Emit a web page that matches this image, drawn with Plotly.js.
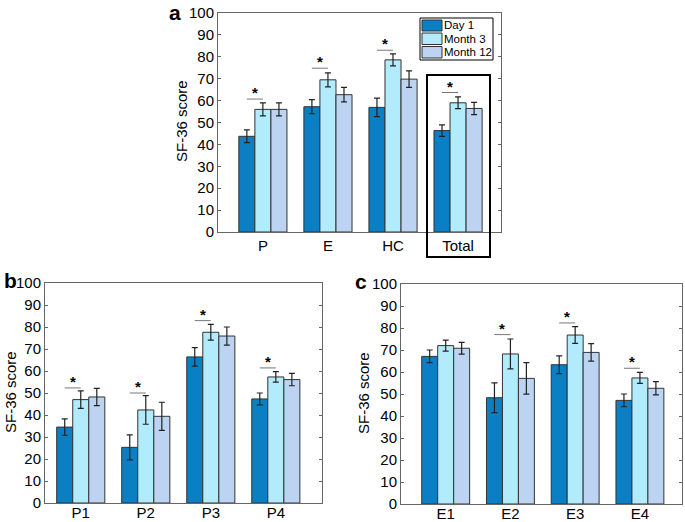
<!DOCTYPE html>
<html>
<head>
<meta charset="utf-8">
<script src="https://cdn.plot.ly/plotly-3.0.1.min.js"></script>
<style>html,body{margin:0;padding:0;background:#fff;}#chart{width:685px;height:522px;}</style>
</head>
<body>
<div id="chart"></div>
<script>
// ---- data ----
var seriesNames = ['Day 1', 'Month 3', 'Month 12'];
var yTitle = 'SF-36 score';

var catsA = ['P', 'E', 'HC', 'Total'];
var day1A = [43.7, 57.2, 56.9, 46.3];
var m3A   = [56.0, 69.5, 78.6, 59.0];
var m12A  = [56.0, 62.7, 69.8, 56.4];
var day1AErr = [2.9, 3.2, 4.2, 2.6];
var m3AErr   = [3.0, 3.2, 2.7, 2.7];
var m12AErr  = [3.0, 3.3, 3.8, 2.8];
var sigA = [60.7, 74.8, 83.0, 63.7];   // level of significance bracket (Day 1 vs Month 3)

var catsB = ['P1', 'P2', 'P3', 'P4'];
var day1B = [34.5, 25.3, 66.4, 47.3];
var m3B   = [47.0, 42.3, 77.6, 57.3];
var m12B  = [48.2, 39.4, 75.9, 56.1];
var day1BErr = [3.7, 5.7, 4.2, 2.7];
var m3BErr   = [4.0, 6.5, 3.6, 2.4];
var m12BErr  = [3.9, 6.4, 4.1, 2.8];
var sigB = [52.3, 50.0, 82.9, 61.4];

var catsC = ['E1', 'E2', 'E3', 'E4'];
var day1C = [67.1, 48.3, 63.3, 47.1];
var m3C   = [72.0, 68.2, 76.8, 57.3];
var m12C  = [70.8, 57.1, 68.9, 52.6];
var day1CErr = [2.9, 6.8, 4.0, 2.9];
var m3CErr   = [2.5, 6.8, 3.8, 2.5];
var m12CErr  = [2.7, 7.2, 4.0, 3.0];
var sigC = [null, 77.0, 82.3, 61.7];

var yTicks = [0, 10, 20, 30, 40, 50, 60, 70, 80, 90, 100];

// ---- style ----
var colors = ['#0a7fc3', '#b2ebfb', '#bcd4f2'];
var W = 685, H = 522;
var BARGAP = 0.26;
var barW = (1 - BARGAP) / 3;
var font = 'Liberation Sans, Arial, sans-serif';

function px2x(p) { return p / W; }
function px2y(p) { return 1 - p / H; }

var panels = [
  {cats: catsA, vals: [day1A, m3A, m12A], errs: [day1AErr, m3AErr, m12AErr], sig: sigA,
   xa: 'x', ya: 'y', xd: [218, 501], yd: [13, 232], range: [0.31, 4.66],
   letter: 'a', lx: 175, ly: 0, ty: 121, tx: 182, lso: 0},
  {cats: catsB, vals: [day1B, m3B, m12B], errs: [day1BErr, m3BErr, m12BErr], sig: sigB,
   xa: 'x2', ya: 'y2', xd: [45, 322], yd: [283, 503], range: [0.45, 4.71],
   letter: 'b', lx: 10, ly: 268, ty: 392, tx: 10, lso: -4},
  {cats: catsC, vals: [day1C, m3C, m12C], errs: [day1CErr, m3CErr, m12CErr], sig: sigC,
   xa: 'x3', ya: 'y3', xd: [401, 682], yd: [284, 504], range: [0.31, 4.65],
   letter: 'c', lx: 361, ly: 269, ty: 393, tx: 363, lso: -4}
];

var traces = [];
var shapes = [];
var annotations = [];
var layout = {
  width: W, height: H,
  margin: {l: 0, r: 0, t: 0, b: 0},
  paper_bgcolor: '#fff', plot_bgcolor: '#fff',
  barmode: 'group', bargap: BARGAP, bargroupgap: 0,
  font: {family: font, size: 14, color: '#000'},
  showlegend: false
};

panels.forEach(function (p, pi) {
  var xpos = p.cats.map(function (c, i) { return i + 1; });
  for (var s = 0; s < 3; s++) {
    traces.push({
      type: 'bar', name: seriesNames[s], x: xpos, y: p.vals[s],
      xaxis: p.xa, yaxis: p.ya,
      marker: {color: colors[s], line: {color: '#333', width: 1}},
      error_y: {type: 'data', array: p.errs[s], visible: true, color: '#222', thickness: 1.2, width: 3},
      hoverinfo: 'skip'
    });
  }
  var xk = 'xaxis' + (pi === 0 ? '' : pi + 1);
  var yk = 'yaxis' + (pi === 0 ? '' : pi + 1);
  layout[xk] = {
    domain: [px2x(p.xd[0]), px2x(p.xd[1])], range: p.range, anchor: p.ya,
    tickmode: 'array', tickvals: xpos, ticktext: p.cats, ticks: '', ticklabelstandoff: p.lso,
    showgrid: false, zeroline: false, showline: true, mirror: true, linecolor: '#666', linewidth: 1,
    tickfont: {family: font, size: 15, color: '#000'}, fixedrange: true
  };
  layout[yk] = {
    domain: [px2y(p.yd[1]), px2y(p.yd[0])], range: [0, 100], anchor: p.xa,
    tickmode: 'array', tickvals: yTicks, ticks: 'inside', ticklen: 3, tickcolor: '#666',
    showgrid: false, zeroline: false, showline: true, mirror: 'ticks', linecolor: '#666', linewidth: 1,
    tickfont: {family: font, size: 15, color: '#000'},
    fixedrange: true
  };
  // y-axis title
  annotations.push({xref: 'paper', yref: 'paper', x: px2x(p.tx), y: px2y(p.ty),
    text: yTitle, textangle: -90, showarrow: false, xanchor: 'center', yanchor: 'middle',
    font: {family: font, size: 15, color: '#000'}});
  // significance brackets between Day 1 and Month 3
  p.sig.forEach(function (v, i) {
    if (v === null) return;
    shapes.push({type: 'line', xref: p.xa, yref: p.ya,
      x0: xpos[i] - barW, x1: xpos[i], y0: v, y1: v,
      line: {color: '#777', width: 1}});
    annotations.push({xref: p.xa, yref: p.ya, x: xpos[i] - barW / 2, y: v,
      text: '<b>*</b>', showarrow: false, yanchor: 'bottom', yshift: -4,
      font: {family: font, size: 15, color: '#000'}});
  });
  annotations.push({xref: 'paper', yref: 'paper', x: px2x(p.lx), y: px2y(p.ly),
    text: '<b>' + p.letter + '</b>', showarrow: false, xanchor: 'center', yanchor: 'top',
    borderpad: 0, yshift: 0,
    font: {family: font, size: 21, color: '#000'}});
});

// legend (drawn as a framed key in panel a)
shapes.push({type: 'rect', xref: 'paper', yref: 'paper',
  x0: px2x(420), x1: px2x(493), y0: px2y(60), y1: px2y(18),
  line: {color: '#000', width: 1}, fillcolor: '#fff'});
var keyRows = [[20, 31], [33, 44.5], [46.5, 58]];
seriesNames.forEach(function (n, s) {
  var r = keyRows[s];
  shapes.push({type: 'rect', xref: 'paper', yref: 'paper',
    x0: px2x(422), x1: px2x(442), y0: px2y(r[1]), y1: px2y(r[0]),
    line: {color: '#333', width: 1}, fillcolor: colors[s]});
  annotations.push({xref: 'paper', yref: 'paper', x: px2x(443), y: px2y((r[0] + r[1]) / 2),
    text: n, showarrow: false, xanchor: 'left', yanchor: 'middle', borderpad: 0,
    font: {family: font, size: 11.5, color: '#000'}});
});

// highlight box around "Total" group
shapes.push({type: 'rect', xref: 'paper', yref: 'paper',
  x0: px2x(427), x1: px2x(490), y0: px2y(257), y1: px2y(75),
  line: {color: '#000', width: 2}, fillcolor: 'rgba(0,0,0,0)'});

layout.shapes = shapes;
layout.annotations = annotations;

Plotly.newPlot('chart', traces, layout, {displayModeBar: false, staticPlot: true});
</script>
</body>
</html>
